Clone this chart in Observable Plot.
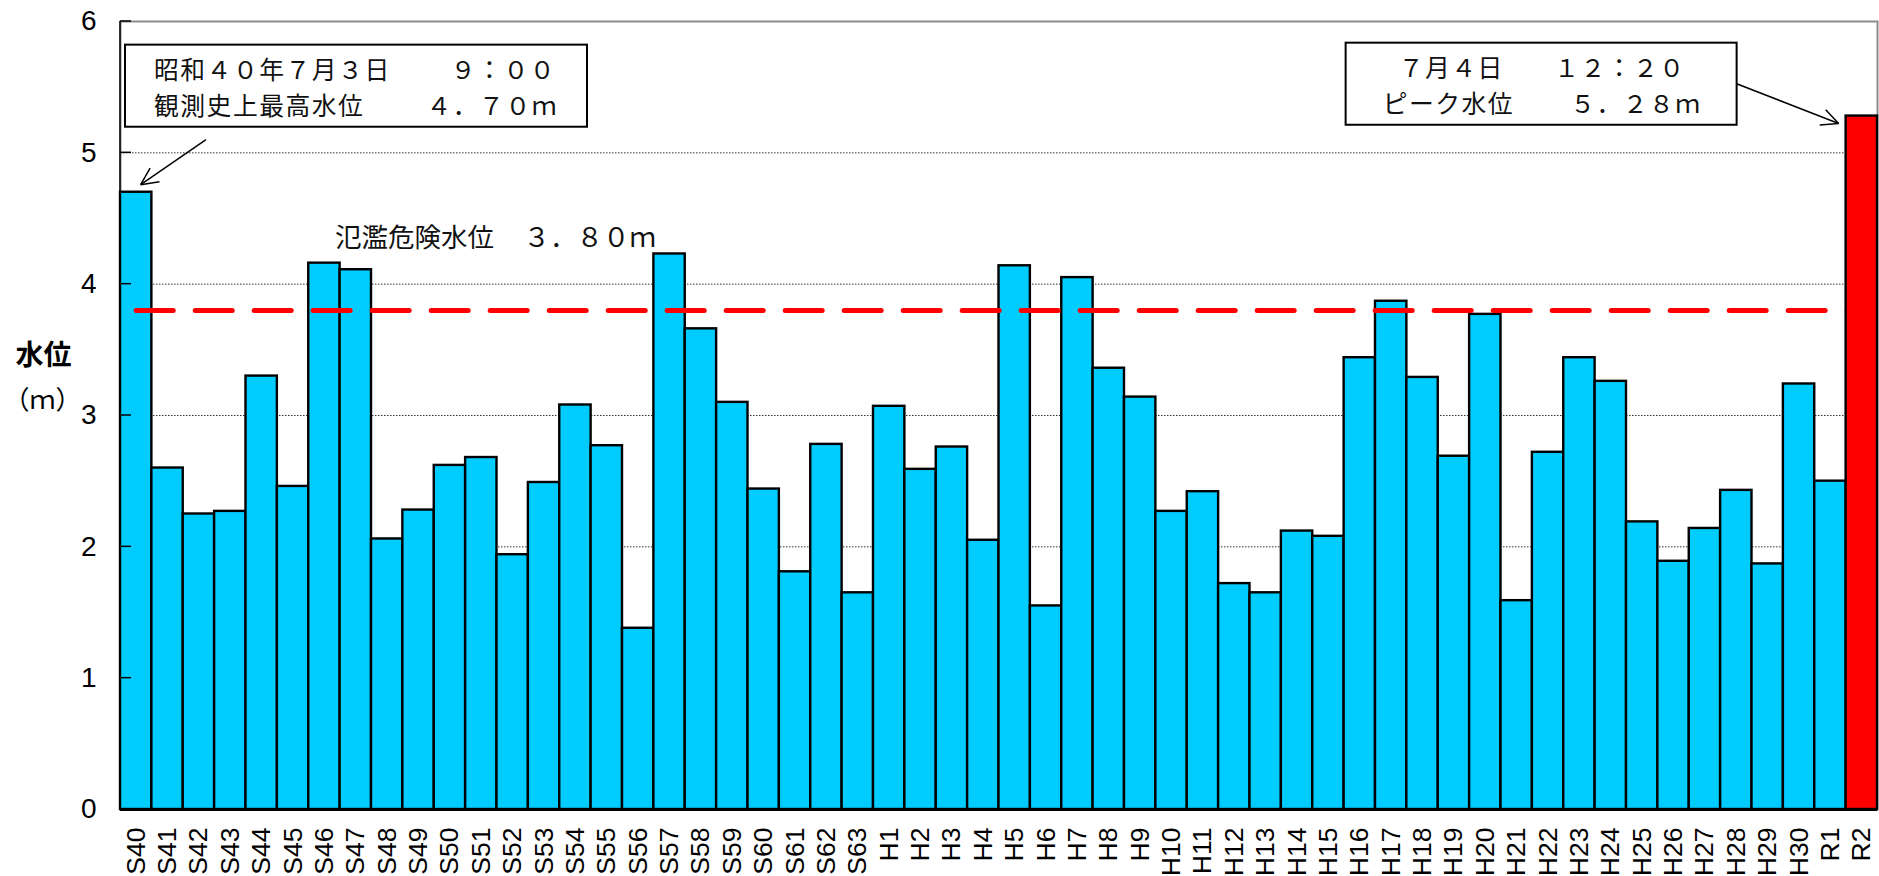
<!DOCTYPE html>
<html><head><meta charset="utf-8">
<script src="https://cdn.jsdelivr.net/npm/d3@7"></script>
<script src="https://cdn.jsdelivr.net/npm/@observablehq/plot@0.6"></script>
<style>
body{margin:0;background:#fff}
#chart svg{display:block}
</style>
</head><body><div id="chart"></div>
<script>
// ---- data ----
const years = ["S40","S41","S42","S43","S44","S45","S46","S47","S48","S49","S50","S51","S52","S53","S54","S55","S56","S57","S58","S59","S60","S61","S62","S63",
  "H1","H2","H3","H4","H5","H6","H7","H8","H9","H10","H11","H12","H13","H14","H15","H16","H17","H18","H19","H20","H21","H22","H23","H24","H25","H26","H27","H28","H29","H30",
  "R1","R2"];
const levels = [4.70,2.60,2.25,2.27,3.30,2.46,4.16,4.11,2.06,2.28,2.62,2.68,1.94,2.49,3.08,2.77,1.38,4.23,3.66,3.10,2.44,1.81,2.78,1.65,
  3.07,2.59,2.76,2.05,4.14,1.55,4.05,3.36,3.14,2.27,2.42,1.72,1.65,2.12,2.08,3.44,3.87,3.29,2.69,3.77,1.59,2.72,3.44,3.26,2.19,1.89,2.14,2.43,1.87,3.24,
  2.50,5.28];
const floodLevel = 3.8;
const yTicks = [0,1,2,3,4,5,6];
const gridTicks = [1,2,3,4,5];
const yLabel = ["水位", "（ｍ）"];
const floodText = ["氾濫危険水位", "３．８０ｍ"];
const note1 = [["昭和４０年７月３日", "９：００"], ["観測史上最高水位", "４．７０ｍ"]];
const note2 = [["７月４日", "１２：２０"], ["ピーク水位", "５．２８ｍ"]];

const blue = "#00CCFF", red = "#FF0000";
const jp = "'Noto Sans CJK JP', 'Noto Sans', sans-serif";
const latin = "'Liberation Sans', Arial, sans-serif";

const data = years.map((year, i) => ({year, level: levels[i]}));
const latest = years[years.length - 1];
const past = data.filter(d => d.year !== latest);
const now = data.filter(d => d.year === latest);
const floodLine = [{year: years[0], level: floodLevel}, {year: latest, level: floodLevel}];

const plot = Plot.plot({
  width: 1879, height: 876,
  marginLeft: 120, marginRight: 2, marginTop: 21, marginBottom: 67,
  style: {fontFamily: latin, background: "#fff", color: "#000", overflow: "visible"},
  x: {type: "band", domain: years, padding: 0, round: false, label: null},
  y: {domain: [0, 6], label: null},
  marks: [
    Plot.gridY(gridTicks, {stroke: "#333", strokeOpacity: 1, strokeWidth: 1, strokeDasharray: "1.5,1.5"}),
    Plot.frame({stroke: "#8c8c8c", strokeWidth: 2}),
    Plot.barY(past, {x: "year", y: "level", fill: blue, stroke: "#000", strokeWidth: 2.4}),
    Plot.lineY(floodLine, {x: "year", y: "level", stroke: red, strokeWidth: 5, strokeDasharray: "37,22", strokeLinecap: "round"}),
    Plot.barY(now, {x: "year", y: "level", fill: red, stroke: "#000", strokeWidth: 2.4}),
    Plot.ruleY([0], {stroke: "#000", strokeWidth: 3}),
    Plot.axisY(yTicks, {tickSize: 0, tickPadding: 24, fontSize: 28, tickFormat: d => String(d), label: null}),
    Plot.axisX({tickSize: 0, tickPadding: 18, tickRotate: -90, fontSize: 26.5, label: null}),
    Plot.text([yLabel[0]], {y: () => 3.45, text: d => d, frameAnchor: "left", textAnchor: "middle", dx: -77, fontSize: 28, fontWeight: "bold", fontFamily: jp, fill: "#000"}),
    Plot.text([yLabel[1]], {y: () => 3.11, text: d => d, frameAnchor: "left", textAnchor: "middle", dx: -78, fontSize: 26, fontFamily: jp, fill: "#000"})
  ]
});
document.getElementById("chart").appendChild(plot);

// ---- annotations positioned through the plot's scales ----
const xs = plot.scale("x"), ys = plot.scale("y");
const bw = xs.bandwidth;
const svg = d3.select(plot);
const g = svg.append("g");

const xStart = xs.apply(years[0]);
// left axis line and inward ticks
g.append("line").attr("x1", xStart).attr("x2", xStart).attr("y1", ys.apply(0)).attr("y2", ys.apply(6))
  .attr("stroke", "#000").attr("stroke-width", 1.5);
yTicks.forEach(t => {
  g.append("line").attr("x1", xStart).attr("x2", xStart + 11).attr("y1", ys.apply(t)).attr("y2", ys.apply(t))
    .attr("stroke", "#000").attr("stroke-width", 1.5);
});

function box(x, y, w, h) {
  g.append("rect").attr("x", x).attr("y", y).attr("width", w).attr("height", h)
    .attr("fill", "#fff").attr("stroke", "#000").attr("stroke-width", 2);
}
// one text element per annotation; rows = [[xl, xr, y, left, right], ...]
function block(rows, size, spacing) {
  const t = g.append("text").attr("dominant-baseline", "central")
    .attr("font-family", jp).attr("font-size", size).attr("letter-spacing", spacing).attr("fill", "#111");
  rows.forEach(([xl, xr, y, left, right]) => {
    t.append("tspan").attr("x", xl).attr("y", y).attr("text-anchor", "start").text(left);
    t.append("tspan").attr("x", xr).attr("y", y).attr("text-anchor", "end").text(right);
  });
}
function arrow(x1, y1, x2, y2) {
  g.append("line").attr("x1", x1).attr("y1", y1).attr("x2", x2).attr("y2", y2)
    .attr("stroke", "#000").attr("stroke-width", 1.5);
  const a = Math.atan2(y2 - y1, x2 - x1), L = 19, s = 0.45;
  [a + Math.PI - s, a + Math.PI + s].forEach(b => {
    g.append("line").attr("x1", x2).attr("y1", y2)
      .attr("x2", x2 + L * Math.cos(b)).attr("y2", y2 + L * Math.sin(b))
      .attr("stroke", "#000").attr("stroke-width", 1.5);
  });
}

// note 1 (record high, S40)
const b1x = xStart + 5, b1y = ys.apply(5.82), b1w = 462, b1h = ys.apply(5.195) - ys.apply(5.82);
box(b1x, b1y, b1w, b1h);
block([
  [b1x + 29, b1x + b1w - 31, b1y + 23, note1[0][0], note1[0][1]],
  [b1x + 29, b1x + b1w - 29, b1y + 59, note1[1][0], note1[1][1]]
], 24.8, 1.5);
arrow(b1x + 81, b1y + b1h + 13, xs.apply(years[0]) + bw / 2 + 5, ys.apply(levels[0]) - 7);

// note 2 (latest peak, R2)
const rStart = xs.apply(latest);
const b2w = 391, b2x = rStart - 109 - b2w, b2y = ys.apply(5.835), b2h = ys.apply(5.21) - ys.apply(5.835);
box(b2x, b2y, b2w, b2h);
block([
  [b2x + 53, b2x + b2w - 51, b2y + 23, note2[0][0], note2[0][1]],
  [b2x + 37, b2x + b2w - 35, b2y + 59, note2[1][0], note2[1][1]]
], 24.8, 1.5);
arrow(b2x + b2w, b2y + b2h / 2, rStart - 7, ys.apply(levels[levels.length - 1]) + 8);

// flood level label
block([[xStart + 215, xStart + 536, ys.apply(4.37), floodText[0], floodText[1]]], 26.5, 0);
</script>
</body></html>
